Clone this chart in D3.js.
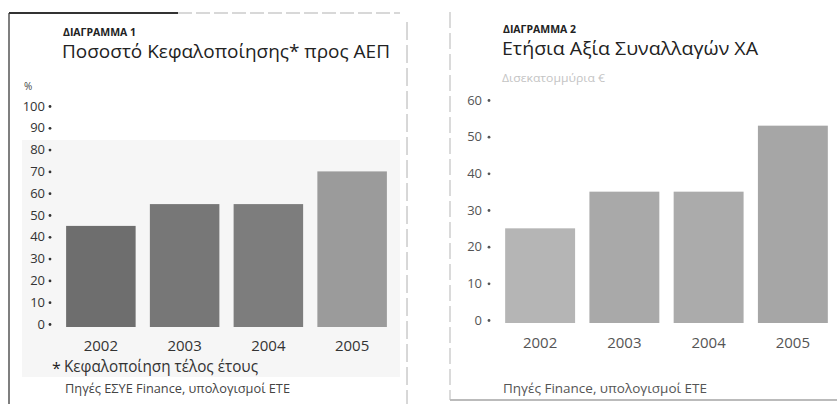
<!DOCTYPE html>
<html>
<head>
<meta charset="utf-8">
<script src="https://cdn.jsdelivr.net/npm/d3@7"></script>
<style>
  body { margin: 0; background: #fff; }
  svg { display: block; font-family: "Open Sans", "DejaVu Sans", sans-serif; }
</style>
</head>
<body>
<div id="chart"></div>
<script>
// data
var years = ["2002", "2003", "2004", "2005"];
var capToGdp = [45, 55, 55, 70];          // ΔΙΑΓΡΑΜΜΑ 1, %
var tradeValue = [25, 35, 35, 53];        // ΔΙΑΓΡΑΜΜΑ 2, δισεκ. €
var ticks1 = [0, 10, 20, 30, 40, 50, 60, 70, 80, 90, 100];
var ticks2 = [0, 10, 20, 30, 40, 50, 60];

var W = 837, H = 404;
var svg = d3.select("#chart").append("svg")
    .attr("width", W)
    .attr("height", H);

svg.append("rect").attr("width", W).attr("height", H).attr("fill", "#fff");

// frame lines (scan look)
svg.append("rect").attr("x", 22).attr("y", 140).attr("width", 378).attr("height", 237).attr("fill", "#f6f6f6");
svg.append("line").attr("x1", 9).attr("x2", 9).attr("y1", 13).attr("y2", 404)
    .attr("stroke", "#555").attr("stroke-width", 1.5);
svg.append("line").attr("x1", 9).attr("x2", 178).attr("y1", 13).attr("y2", 13)
    .attr("stroke", "#333").attr("stroke-width", 2);
svg.append("line").attr("x1", 178).attr("x2", 400).attr("y1", 13).attr("y2", 13)
    .attr("stroke", "#ccc").attr("stroke-width", 1.5).attr("stroke-dasharray", "14,4");
svg.append("line").attr("x1", 407).attr("x2", 407).attr("y1", 22).attr("y2", 404)
    .attr("stroke", "#b0b0b0").attr("stroke-width", 1).attr("stroke-dasharray", "18,5");
svg.append("line").attr("x1", 450).attr("x2", 450).attr("y1", 12).attr("y2", 400)
    .attr("stroke", "#b5b5b5").attr("stroke-width", 1).attr("stroke-dasharray", "16,5");
svg.append("line").attr("x1", 450).attr("x2", 837).attr("y1", 400).attr("y2", 400)
    .attr("stroke", "#bbb").attr("stroke-width", 2);

/**
 * Draws one bar panel
 */
function panel(opt) {
    var x = d3.scaleBand()
        .domain(years)
        .range(opt.xRange)
        .paddingInner(0.17)
        .paddingOuter(0.085);

    var y = d3.scaleLinear()
        .domain(opt.yDomain)
        .range(opt.yRange);

    var g = svg.append("g");

    // y axis: numbers followed by a dot
    var yAxis = d3.axisLeft(y).tickValues(opt.ticks).tickSize(0).tickPadding(0);
    var ax = g.append("g")
        .attr("transform", "translate(" + opt.labelX + ",0)")
        .call(yAxis);
    ax.select(".domain").remove();
    ax.selectAll("text")
        .attr("font-size", 13)
        .attr("fill", opt.textColor)
        .attr("font-family", "\"Open Sans\", sans-serif");
    ax.selectAll(".tick").append("circle")
        .attr("cx", opt.dotX - opt.labelX)
        .attr("cy", 0)
        .attr("r", 1.4)
        .attr("fill", opt.textColor);

    g.selectAll("rect.bar")
        .data(opt.values)
        .enter()
        .append("rect")
        .attr("class", "bar")
        .attr("x", function (d, i) { return x(years[i]); })
        .attr("y", function (d) { return y(d); })
        .attr("width", x.bandwidth())
        .attr("height", function (d) { return y(0) + 3 - y(d); })
        .attr("fill", function (d, i) { return opt.colors[i]; });

    // x axis labels
    var xAxis = d3.axisBottom(x).tickSize(0).tickPadding(0);
    var bx = g.append("g")
        .attr("transform", "translate(0," + opt.yearY + ")")
        .call(xAxis);
    bx.select(".domain").remove();
    bx.selectAll("text")
        .attr("font-size", 15)
        .attr("fill", opt.yearColor)
        .attr("dy", 0)
        .attr("font-family", "\"Open Sans\", sans-serif");
}

panel({
    values: capToGdp,
    ticks: ticks1,
    yDomain: [0, 100],
    yRange: [324, 106],
    xRange: [59, 394],
    labelX: 45,
    dotX: 50,
    yearY: 351,
    textColor: "#333",
    yearColor: "#333",
    colors: ["#6e6e6e", "#777", "#7d7d7d", "#9b9b9b"]
});

panel({
    values: tradeValue,
    ticks: ticks2,
    yDomain: [0, 60],
    yRange: [320, 100],
    xRange: [498, 835],
    labelX: 482,
    dotX: 489,
    yearY: 348,
    textColor: "#555",
    yearColor: "#555",
    colors: ["#b5b5b5", "#a9a9a9", "#ababab", "#a6a6a6"]
});

// titles and notes
function label(x, y, txt, size, color, weight, len) {
    var t = svg.append("text")
        .attr("x", x).attr("y", y)
        .attr("font-size", size)
        .attr("fill", color)
        .attr("font-weight", weight || "normal")
        .text(txt);
    if (len) t.attr("textLength", len).attr("lengthAdjust", "spacingAndGlyphs");
    return t;
}

label(63, 36, "ΔΙΑΓΡΑΜΜΑ 1", 11, "#222", "bold", 73);
label(62, 58, "Ποσοστό Κεφαλοποίησης* προς ΑΕΠ", 19, "#222", "normal", 328);
label(24, 90, "%", 10, "#444");
label(52, 374, "*", 16, "#222");
label(64, 372, "Κεφαλοποίηση τέλος έτους", 16, "#333", "normal", 194);
label(65, 393, "Πηγές ΕΣΥΕ Finance, υπολογισμοί ΕΤΕ", 12, "#444", "normal", 225);

label(503, 33, "ΔΙΑΓΡΑΜΜΑ 2", 11, "#222", "bold", 73);
label(502, 55, "Ετήσια Αξία Συναλλαγών ΧΑ", 19, "#222", "normal", 256);
label(502, 82, "Δισεκατομμύρια €", 11, "#c4c4c4", "normal", 103);
label(503, 393, "Πηγές Finance, υπολογισμοί ΕΤΕ", 12, "#555", "normal", 204);
</script>
</body>
</html>
